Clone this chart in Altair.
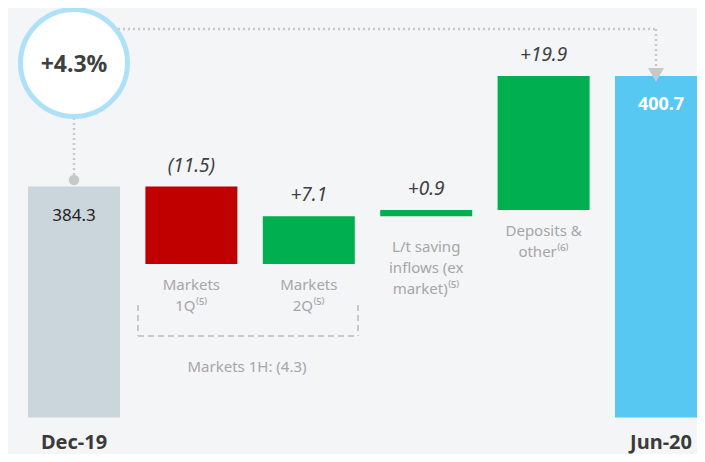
import altair as alt
import pandas as pd

# ---------------- data ----------------
categories = ["Dec-19", "Markets 1Q", "Markets 2Q", "L/t saving", "Deposits", "Jun-20"]
changes = [384.3, -11.5, 7.1, 0.9, 19.9, 400.7]
kinds = ["total", "step", "step", "step", "step", "total"]
value_labels = ["384.3", "(11.5)", "+7.1", "+0.9", "+19.9", "400.7"]
bar_colors = ["#cbd5dc", "#c00000", "#00b050", "#00b050", "#00b050", "#56c8f2"]
cat_lines = [
    [],
    ["Markets", "1Q⁽⁵⁾"],
    ["Markets", "2Q⁽⁵⁾"],
    ["L/t saving", "inflows (ex", "market)⁽⁵⁾"],
    ["Deposits &", "other⁽⁶⁾"],
    [],
]
axis_floor = 350.0
y_domain = [344.6, 410.8]
growth_label = "+4.3%"
bracket_label = "Markets 1H: (4.3)"

# ---------------- build table ----------------
rows = []
running = 0.0
for cat, ch, kind, lab, col, lines in zip(categories, changes, kinds, value_labels, bar_colors, cat_lines):
    if kind == "total":
        start, end = axis_floor, ch
        running = ch
    else:
        start, end = running, running + ch
        running = end
    rows.append(dict(cat=cat, start=start, end=end, top=max(start, end), low=min(start, end),
                     kind=kind, label=lab, color=col, lines=lines, nlines=len(lines)))
df = pd.DataFrame(rows)

FONT = "Noto Sans"
W, H = 689, 446

x_enc = alt.X("cat:N", sort=categories, axis=None,
              scale=alt.Scale(type="band", range=[20, 699], paddingInner=0.2164, paddingOuter=0))
y_scale = alt.Scale(domain=y_domain, nice=False, zero=False)

base = alt.Chart(df)

bars = base.mark_bar().encode(
    x=x_enc,
    y=alt.Y("start:Q", scale=y_scale, axis=None),
    y2="end:Q",
    color=alt.Color("color:N", scale=None),
)

step_labels = base.transform_filter(alt.datum.kind == "step").mark_text(
    font=FONT, fontSize=19, fontStyle="italic", color="#404040", dy=-21, baseline="middle"
).encode(x=x_enc, y=alt.Y("top:Q", scale=y_scale), text="label:N")

dec_label = base.transform_filter(alt.datum.cat == "Dec-19").mark_text(
    font=FONT, fontSize=17, color="#1f1f1f", dy=29, baseline="middle"
).encode(x=x_enc, y=alt.Y("top:Q", scale=y_scale), text="label:N")

jun_label = base.transform_filter(alt.datum.cat == "Jun-20").mark_text(
    font=FONT, fontSize=18, fontWeight="bold", color="#ffffff", dy=29, baseline="middle"
).encode(x=x_enc, y=alt.Y("top:Q", scale=y_scale), text="label:N")

cat_text = base.transform_filter(
    (alt.datum.nlines > 0) & (alt.datum.cat != "L/t saving")
).mark_text(
    font=FONT, fontSize=15, color="#a6a6a6", dy=14, baseline="top", lineHeight=21
).encode(x=x_enc, y=alt.Y("low:Q", scale=y_scale), text="lines")

cat_text_lt = base.transform_filter(alt.datum.cat == "L/t saving").mark_text(
    font=FONT, fontSize=15, color="#a6a6a6", dy=24, baseline="top", lineHeight=21
).encode(x=x_enc, y=alt.Y("low:Q", scale=y_scale), text="lines")

bottom_text = base.transform_filter(alt.datum.kind == "total").mark_text(
    font=FONT, fontSize=20, fontWeight="bold", color="#3a3a3a", baseline="alphabetic"
).encode(x=x_enc, y=alt.value(441), text="cat:N")

# ---------------- annotations ----------------
ann = alt.Chart(pd.DataFrame({"a": [0]}))
dot_col = "#c8c8c8"

v_conn = ann.mark_rule(color=dot_col, strokeWidth=2.5, strokeDash=[2, 3]).encode(
    x=alt.value(66), y=alt.value(110), y2=alt.value(172))
dot = ann.mark_point(shape="circle", filled=True, color=dot_col, size=110, opacity=1).encode(
    x=alt.value(66), y=alt.value(172))
h_conn = ann.mark_rule(color=dot_col, strokeWidth=2.5, strokeDash=[2, 3]).encode(
    x=alt.value(110), x2=alt.value(648), y=alt.value(21))
v_conn2 = ann.mark_rule(color=dot_col, strokeWidth=2.5, strokeDash=[2, 3]).encode(
    x=alt.value(648), y=alt.value(21), y2=alt.value(61))
arrow = ann.mark_point(shape="triangle-down", filled=True, color=dot_col, size=256, opacity=1).encode(
    x=alt.value(648), y=alt.value(67))

circle = ann.mark_point(shape="circle", filled=True, fill="#ffffff", stroke="#aee1f7",
                        strokeWidth=5, size=11449, opacity=1).encode(
    x=alt.value(66), y=alt.value(55))
circle_text = ann.mark_text(font=FONT, fontSize=23, fontWeight="bold", color="#404040",
                            baseline="middle").encode(
    x=alt.value(66), y=alt.value(57), text=alt.value(growth_label))

br_col = "#c9c9c9"
br_left = ann.mark_rule(color=br_col, strokeWidth=2, strokeDash=[6, 4]).encode(
    x=alt.value(130), y=alt.value(297), y2=alt.value(328))
br_right = ann.mark_rule(color=br_col, strokeWidth=2, strokeDash=[6, 4]).encode(
    x=alt.value(350), y=alt.value(297), y2=alt.value(328))
br_bottom = ann.mark_rule(color=br_col, strokeWidth=2, strokeDash=[6, 4]).encode(
    x=alt.value(130), x2=alt.value(350), y=alt.value(328))
br_text = ann.mark_text(font=FONT, fontSize=15, color="#a6a6a6", baseline="middle").encode(
    x=alt.value(239), y=alt.value(359), text=alt.value(bracket_label))

chart = alt.layer(
    bars, step_labels, dec_label, jun_label, cat_text, cat_text_lt, bottom_text,
    v_conn, dot, h_conn, v_conn2, arrow, circle, circle_text,
    br_left, br_right, br_bottom, br_text,
).properties(
    width=W, height=H, padding=0, autosize=alt.AutoSizeParams(type="none"),
    background="#f4f5f7",
).configure_view(stroke=None)

chart.save("out.html", embed_options={"renderer": "svg", "actions": False})
